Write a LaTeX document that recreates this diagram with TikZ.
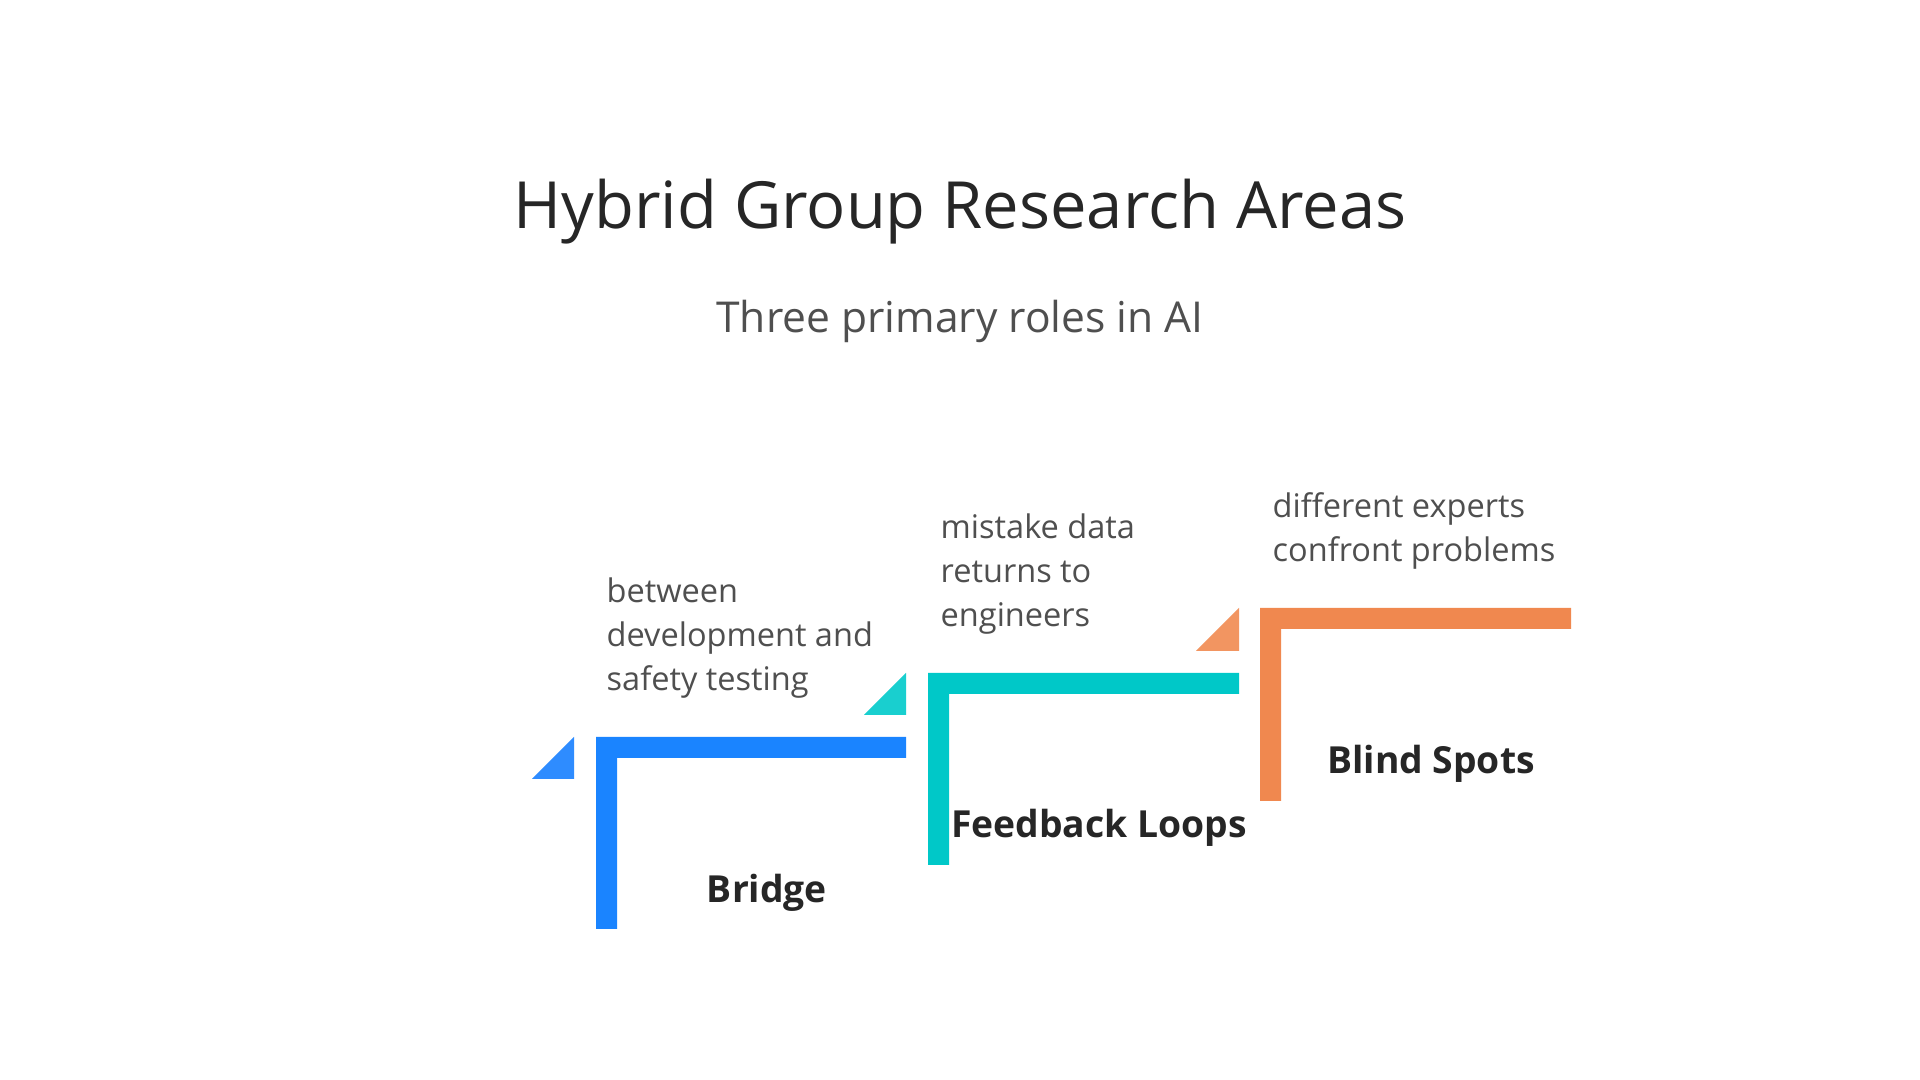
\documentclass[tikz,border=0pt]{standalone}
\usepackage{fontspec}
\setmainfont{Open Sans}
\definecolor{stepblue}{HTML}{1A84FF}
\definecolor{stepblueT}{HTML}{2E8CFF}
\definecolor{stepcyan}{HTML}{00C8C8}
\definecolor{stepcyanT}{HTML}{19CFCF}
\definecolor{steporange}{HTML}{F0884F}
\definecolor{steporangeT}{HTML}{F29561}
\definecolor{titlegray}{HTML}{262626}
\definecolor{descgray}{HTML}{4F4F4F}
\begin{document}
\begin{tikzpicture}[x=0.01cm,y=-0.01cm,
  desc/.style={anchor=south west,inner sep=0pt,align=left,text=descgray,
    font=\fontsize{9.25}{12.5}\selectfont},
  steplabel/.style={anchor=base,inner sep=0pt,text=titlegray,
    font=\fontsize{10.6}{12}\selectfont\bfseries}]
  \useasboundingbox[fill=white] (0,0) rectangle (1920,1080);

  \node[anchor=base,inner sep=0pt,text=titlegray,font=\fontsize{18.5}{22}\selectfont] (title) at (960,229) {Hybrid Group Research Areas};
  \node[anchor=base,inner sep=0pt,text=descgray,font=\fontsize{12.1}{15}\selectfont] (subtitle) at (960,333) {Three primary roles in AI};

  % Bridge
  \fill[stepblue] (596,929) -- (596,737) -- (906,737) -- (906,758) -- (617,758) -- (617,929) -- cycle;
  \fill[stepblueT] (532,779) -- (574,779) -- (574,737) -- cycle;
  \node[steplabel] (bridge) at (767,903) {Bridge};
  \node[desc] (bridgetext) at (606,699) {between\\development and\\safety testing};

  % Feedback Loops
  \fill[stepcyan] (928,865) -- (928,673) -- (1239,673) -- (1239,694) -- (949,694) -- (949,865) -- cycle;
  \fill[stepcyanT] (864,715) -- (906,715) -- (906,673) -- cycle;
  \node[steplabel] (feedback) at (1099,838) {Feedback Loops};
  \node[desc] (feedbacktext) at (940,635) {mistake data\\returns to\\engineers};

  % Blind Spots
  \fill[steporange] (1260,801) -- (1260,608) -- (1571,608) -- (1571,629) -- (1281,629) -- (1281,801) -- cycle;
  \fill[steporangeT] (1196,651) -- (1239,651) -- (1239,608) -- cycle;
  \node[steplabel] (blind) at (1431,774) {Blind Spots};
  \node[desc] (blindtext) at (1272,570) {different experts\\confront problems};
\end{tikzpicture}
\end{document}
